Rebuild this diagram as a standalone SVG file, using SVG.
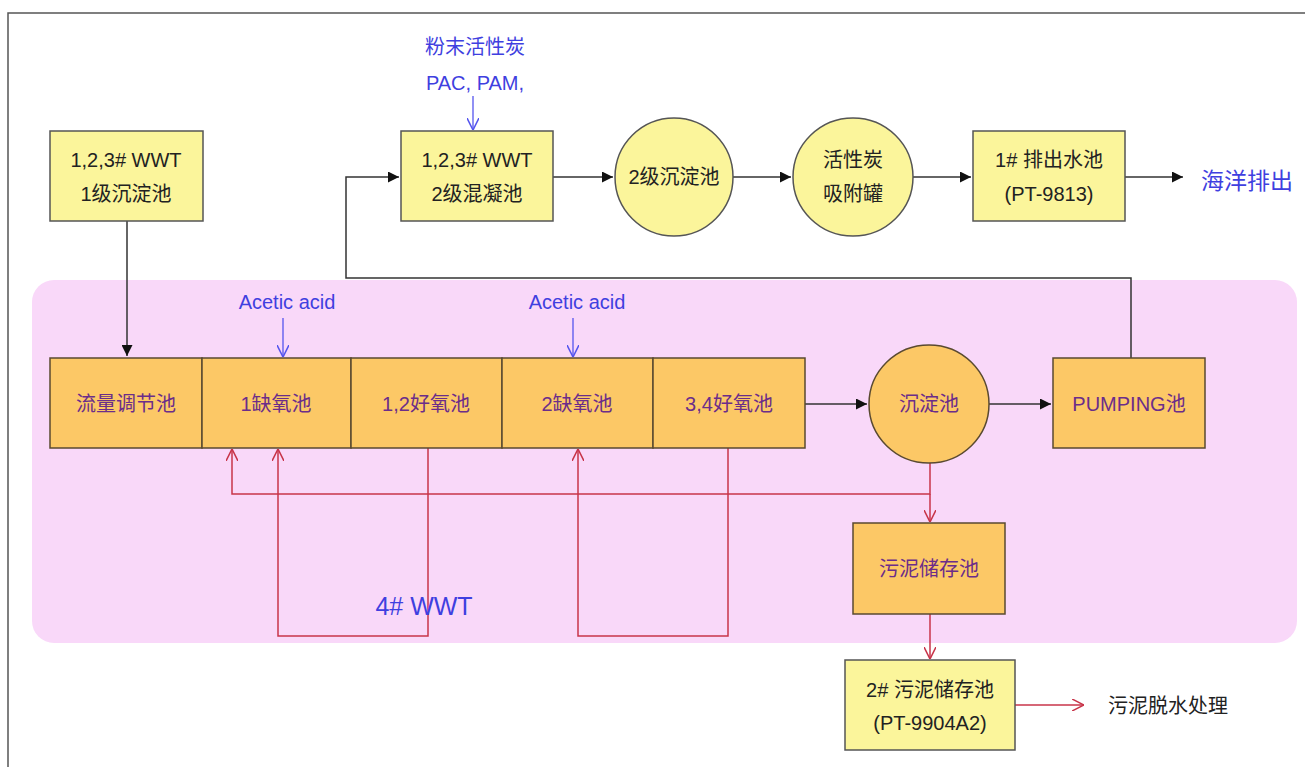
<svg xmlns="http://www.w3.org/2000/svg" width="1305" height="767" viewBox="0 0 1305 767">
<defs>
<style>
.y{fill:#FBF59B;stroke:#555;stroke-width:1.5}
.o{fill:#FCC866;stroke:#5a4a30;stroke-width:1.5}
.t{font-family:"Liberation Sans","Noto Sans CJK SC",sans-serif;font-size:20px;fill:#222;text-anchor:middle}
.p{font-family:"Liberation Sans","Noto Sans CJK SC",sans-serif;font-size:20px;fill:#6B2D8A;text-anchor:middle}
.b{font-family:"Liberation Sans","Noto Sans CJK SC",sans-serif;fill:#3F3FE0;text-anchor:middle}
.k{fill:none;stroke:#333;stroke-width:1.5}
.r{fill:none;stroke:#C8354A;stroke-width:1.5}
.bl{fill:none;stroke:#5555EE;stroke-width:1.3}
</style>
<marker id="ak" viewBox="0 0 10 10" refX="10" refY="5" markerWidth="11" markerHeight="11" markerUnits="userSpaceOnUse" orient="auto"><path d="M0,0 L10,5 L0,10 Z" fill="#111"/></marker>
<marker id="ar" viewBox="0 0 10 10" refX="10" refY="5" markerWidth="12" markerHeight="12" markerUnits="userSpaceOnUse" orient="auto"><path d="M0,0 L10,5 L0,10" fill="none" stroke="#C8354A" stroke-width="1.3"/></marker>
<marker id="ab" viewBox="0 0 10 10" refX="10" refY="5" markerWidth="12" markerHeight="12" markerUnits="userSpaceOnUse" orient="auto"><path d="M0,0 L10,5 L0,10" fill="none" stroke="#5555EE" stroke-width="1.3"/></marker>
</defs>
<rect width="1305" height="767" fill="#fff"/>
<path d="M8,767 V13 H1305" fill="none" stroke="#555" stroke-width="1.5"/>
<rect id="zone" x="32" y="280" width="1265" height="363" rx="22" fill="#F9D8F9"/>

<g id="connectors">
<path class="k" d="M127,221 V356" marker-end="url(#ak)"/>
<path class="k" d="M1131,358 V278 H346 V177 H399" marker-end="url(#ak)"/>
<path class="k" d="M553,177 H613" marker-end="url(#ak)"/>
<path class="k" d="M733,177 H791" marker-end="url(#ak)"/>
<path class="k" d="M913,177 H971" marker-end="url(#ak)"/>
<path class="k" d="M1125,177 H1183" marker-end="url(#ak)"/>
<path class="k" d="M805,404 H867" marker-end="url(#ak)"/>
<path class="k" d="M989,404 H1051" marker-end="url(#ak)"/>
<path class="bl" d="M473,96 V130" marker-end="url(#ab)"/>
<path class="bl" d="M283,318 V357" marker-end="url(#ab)"/>
<path class="bl" d="M573,318 V357" marker-end="url(#ab)"/>
<path class="r" d="M930,463 V494 H232 V449" marker-end="url(#ar)"/>
<path class="r" d="M930,494 V522" marker-end="url(#ar)"/>
<path class="r" d="M428,448 V636 H278 V449" marker-end="url(#ar)"/>
<path class="r" d="M728,448 V636 H578 V449" marker-end="url(#ar)"/>
<path class="r" d="M930,614 V659" marker-end="url(#ar)"/>
<path class="r" d="M1015,705 H1084" marker-end="url(#ar)"/>
</g>

<g id="n1"><rect class="y" x="50" y="131" width="153" height="90"/><text class="t" x="126" y="167">1,2,3# WWT</text><text class="t" x="126" y="201">1级沉淀池</text></g>
<g id="n2"><rect class="y" x="401" y="131" width="152" height="90"/><text class="t" x="477" y="167">1,2,3# WWT</text><text class="t" x="477" y="201">2级混凝池</text></g>
<g id="n3"><ellipse class="y" cx="674" cy="177" rx="59" ry="59"/><text class="t" x="674" y="184">2级沉淀池</text></g>
<g id="n4"><ellipse class="y" cx="853" cy="177" rx="60" ry="59"/><text class="t" x="853" y="167">活性炭</text><text class="t" x="853" y="201">吸附罐</text></g>
<g id="n5"><rect class="y" x="973" y="131" width="152" height="90"/><text class="t" x="1049" y="167">1# 排出水池</text><text class="t" x="1049" y="201">(PT-9813)</text></g>
<g id="l1"><text class="b" x="1247" y="189" font-size="23">海洋排出</text></g>
<g id="l2"><text class="b" x="475" y="54" font-size="20">粉末活性炭</text><text class="b" x="475" y="90" font-size="20">PAC, PAM,</text></g>
<g id="l3"><text class="b" x="287" y="309" font-size="20">Acetic acid</text></g>
<g id="l4"><text class="b" x="577" y="309" font-size="20">Acetic acid</text></g>

<g id="r1"><rect class="o" x="50" y="358" width="152" height="90"/><text class="p" x="126" y="411">流量调节池</text></g>
<g id="r2"><rect class="o" x="202" y="358" width="149" height="90"/><text class="p" x="276" y="411">1缺氧池</text></g>
<g id="r3"><rect class="o" x="351" y="358" width="151" height="90"/><text class="p" x="426" y="411">1,2好氧池</text></g>
<g id="r4"><rect class="o" x="502" y="358" width="151" height="90"/><text class="p" x="577" y="411">2缺氧池</text></g>
<g id="r5"><rect class="o" x="653" y="358" width="152" height="90"/><text class="p" x="729" y="411">3,4好氧池</text></g>
<g id="r6"><ellipse class="o" cx="929" cy="404" rx="60" ry="59"/><text class="p" x="929" y="411">沉淀池</text></g>
<g id="r7"><rect class="o" x="1053" y="358" width="152" height="90"/><text class="p" x="1129" y="411">PUMPING池</text></g>
<g id="r8"><rect class="o" x="853" y="523" width="152" height="91"/><text class="p" x="929" y="576">污泥储存池</text></g>
<g id="l5"><text class="b" x="424" y="615" font-size="25">4#  WWT</text></g>
<g id="n6"><rect class="y" x="845" y="660" width="170" height="90"/><text class="t" x="930" y="697">2# 污泥储存池</text><text class="t" x="930" y="730">(PT-9904A2)</text></g>
<g id="n7"><text class="t" x="1168" y="713" font-size="22">污泥脱水处理</text></g>
</svg>
